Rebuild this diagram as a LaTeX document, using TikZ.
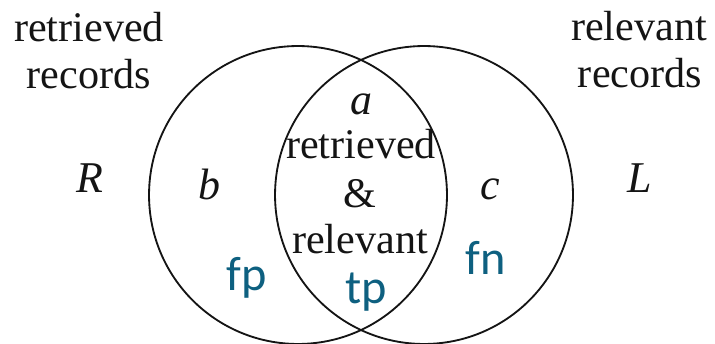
\documentclass[tikz,border=0pt]{standalone}
\usepackage{fontspec}
\setmainfont{Liberation Serif}
\newfontfamily\metricfont{Carlito}
\usepackage{xcolor}
\definecolor{vennTeal}{RGB}{14,96,128}
\definecolor{vennDark}{RGB}{20,20,20}
\usepackage{tikz}
\usetikzlibrary{positioning}

\begin{document}
\begin{tikzpicture}[
    x=0.02cm, y=-0.02cm,
    setCircle/.style={
        circle, draw=vennDark, line width=1.05pt,
        minimum size=5.96cm, inner sep=0pt
    },
    setText/.style={
        font=\fontsize{24}{28}\selectfont, text=vennDark,
        anchor=base, inner sep=0pt
    },
    varText/.style={
        font=\fontsize{25}{28}\selectfont\itshape, text=vennDark,
        anchor=base, inner sep=0pt
    },
    metricText/.style={
        font=\metricfont\fontsize{27.5}{30}\selectfont, text=vennTeal,
        anchor=base, inner sep=0pt
    }
]
    \useasboundingbox (0,0) rectangle (715,344);

    % The two sets
    \node[setCircle] (retSet) at (298,195) {};
    \node[setCircle] (relSet) at (424,195) {};

    % Outside captions
    \node[setText] (retCap1) at (89,42) {retrieved};
    \node[setText] (retCap2) at (89,89) {records};
    \node[setText] (relCap1) at (639,41) {relevant};
    \node[setText] (relCap2) at (640,88) {records};
    \node[varText] (symR) at (90,192) {R};
    \node[varText] (symL) at (640,192) {L};

    % Regions
    \node[varText] (symB) at (209,199) {b};
    \node[varText] (symC) at (490,199) {c};
    \node[varText] (symA) at (361,115) {a};
    \node[setText] (midTxt1) at (361,158) {retrieved};
    \node[setText] (midTxt2) at (360,207) {\&};
    \node[setText] (midTxt3) at (360,253) {relevant};

    % Confusion-matrix names
    \node[metricText] (fpTxt) at (247,290) {fp};
    \node[metricText] (tpTxt) at (366,303) {tp};
    \node[metricText] (fnTxt) at (486,274) {fn};

\end{tikzpicture}
\end{document}
